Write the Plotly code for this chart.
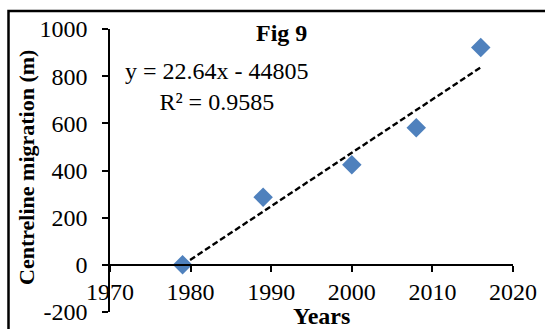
import plotly.graph_objects as go
import numpy as np

years = [1979, 1989, 2000, 2008, 2016]
migration = [0, 287, 424, 581, 922]
slope = 22.64
intercept = -44805
r2 = 0.9585
x_ticks = [1970, 1980, 1990, 2000, 2010, 2020]
y_ticks = [-200, 0, 200, 400, 600, 800, 1000]
y_tick_labels = ["-200", "0", "200", "400", "600", "800", "1000"]

trend_x = np.array([min(years), max(years)])
trend_y = slope * trend_x + intercept

FONT = "Liberation Serif"
L, R, T, B = 110, 32, 29, 17
PW, PH = 545 - L - R, 329 - T - B

def px(x):
    return (x - L) / PW

def py(y):
    return (329 - B - y) / PH

fig = go.Figure()
fig.add_trace(go.Scatter(x=trend_x, y=trend_y, mode="lines",
                         line=dict(color="black", width=2.4, dash="6px,3px"),
                         showlegend=False, hoverinfo="skip"))
fig.add_trace(go.Scatter(x=years, y=migration, mode="markers",
                         marker=dict(symbol="diamond", size=15, color="#4F81BD",
                                     line=dict(width=0)),
                         showlegend=False))

fig.update_layout(
    width=545, height=329,
    margin=dict(l=L, r=R, t=T, b=B),
    paper_bgcolor="white", plot_bgcolor="white",
    font=dict(family=FONT, size=24, color="black"),
    xaxis=dict(range=[1970, 2020], tickvals=x_ticks, showgrid=False, zeroline=False,
               showline=True, linecolor="black", linewidth=1.5,
               ticks="outside", ticklen=6, tickcolor="black", tickwidth=1.5,
               anchor="free", position=200/1200, automargin=False,
               tickfont=dict(family=FONT, size=24)),
    yaxis=dict(range=[-200, 1000], tickvals=y_ticks, ticktext=y_tick_labels,
               showgrid=False, zeroline=False,
               showline=True, linecolor="black", linewidth=1.5,
               ticks="outside", ticklen=6, tickcolor="black", tickwidth=1.5,
               automargin=False, ticklabelstandoff=10,
               tickfont=dict(family=FONT, size=24), domain=[0, 1]),
    showlegend=False,
)

fig.add_annotation(text="<b>Centreline migration (m)</b>", xref="paper", yref="paper",
                   x=px(26), y=py(168), textangle=-90, showarrow=False,
                   xanchor="center", yanchor="middle",
                   font=dict(family=FONT, size=22))
fig.add_annotation(text="<b>Years</b>", xref="paper", yref="paper",
                   x=px(321), y=py(316), showarrow=False,
                   xanchor="center", yanchor="middle",
                   font=dict(family=FONT, size=24))
fig.add_annotation(text="<b>Fig 9</b>", xref="paper", yref="paper",
                   x=px(281), y=py(33), showarrow=False,
                   xanchor="center", yanchor="middle",
                   font=dict(family=FONT, size=24))
fig.add_annotation(text=f"y = {slope}x - {abs(intercept)}<br>R² = {r2}",
                   xref="paper", yref="paper",
                   x=px(217), y=py(86), showarrow=False, align="center",
                   xanchor="center", yanchor="middle",
                   font=dict(family=FONT, size=24))

fig.add_shape(type="rect", xref="paper", yref="paper",
              x0=px(8.5), x1=2, y0=-2, y1=py(11),
              line=dict(color="black", width=2.5), fillcolor="rgba(0,0,0,0)")

fig.write_html("out.html")
